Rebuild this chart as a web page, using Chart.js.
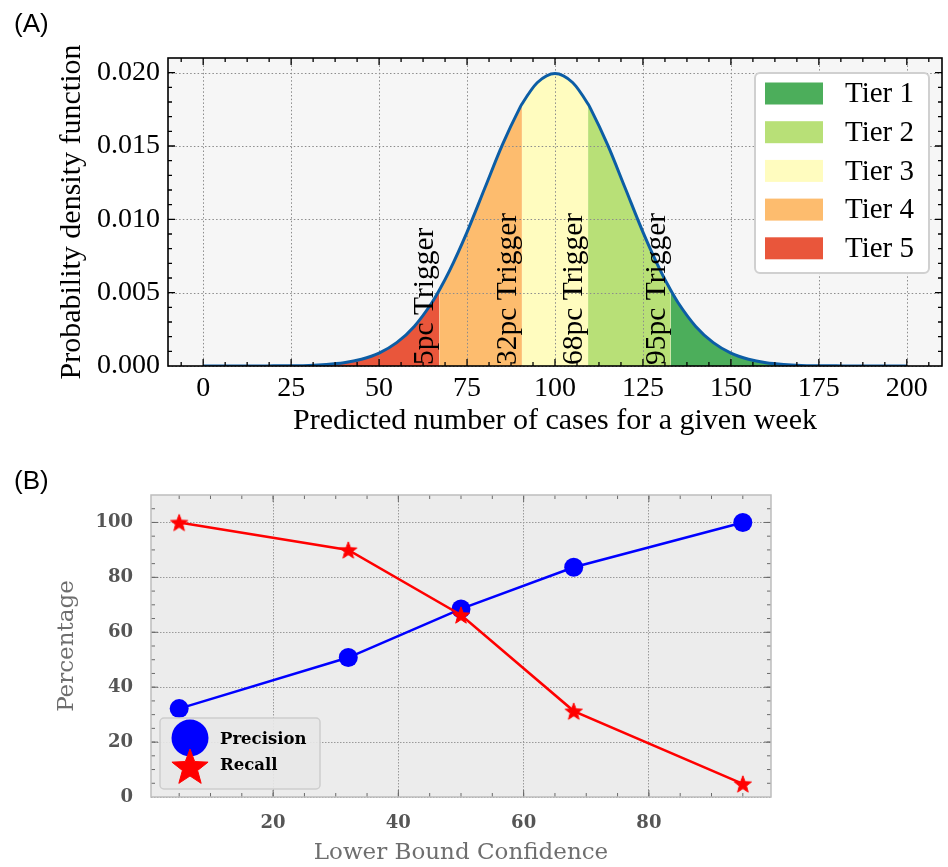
<!DOCTYPE html>
<html><head><meta charset="utf-8">
<script src="https://cdn.jsdelivr.net/npm/chart.js@4.4.0/dist/chart.umd.min.js"></script>
<style>
html,body{margin:0;padding:0;background:#fff;}
body{width:948px;height:867px;position:relative;overflow:hidden;}
#cA{position:absolute;left:0;top:0;}
#cB{position:absolute;left:0;top:450px;}
.panel{position:absolute;font-family:"Liberation Sans",Arial,sans-serif;font-size:26px;line-height:26px;color:#000;}
</style></head><body>
<canvas id="cA" width="948" height="450"></canvas>
<canvas id="cB" width="948" height="417"></canvas>
<div class="panel" style="left:14px;top:10px;">(A)</div>
<div class="panel" style="left:14px;top:467px;">(B)</div>
<script>
// ---------- Panel A data ----------
const casesX = [0,5,10,15,20,25,30,35,40,45,50,55,60,65,70,75,80,85,90,95,100,
                105,110,115,120,125,130,135,140,145,150,155,160,165,170,175,180,185,190,195,200];
const pdfY = [0,0,0,0,0.00001,0.00002,0.00004,0.0001,0.00022,0.00046,0.00088,0.00159,0.0027,0.00431,0.00648,0.00913,0.0121,0.01506,0.0176,0.01933,0.01995,
              0.01933,0.0176,0.01506,0.0121,0.00913,0.00648,0.00431,0.0027,0.00159,0.00088,0.00046,0.00022,0.0001,0.00004,0.00002,0.00001,0,0,0,0];
const triggerX = [67.1, 90.6, 109.4, 132.9];
const triggerPdf = [0.00516, 0.01786, 0.01786, 0.00516];
const triggerLabels = ['5pc Trigger', '32pc Trigger', '68pc Trigger', '95pc Trigger'];
const tierNames = ['Tier 1', 'Tier 2', 'Tier 3', 'Tier 4', 'Tier 5'];
const tierColors = ['#4cae5b', '#b8e077', '#fffcbf', '#fdbc6e', '#e9563b'];
const xTicksA = [0, 25, 50, 75, 100, 125, 150, 175, 200];
const yTicksA = [0, 0.005, 0.010, 0.015, 0.020];
const xTitleA = 'Predicted number of cases for a given week';
const yTitleA = 'Probability density function';

// ---------- Panel B data ----------
const confidence = [5, 32, 50, 68, 95];
const precision = [32.2, 50.8, 68.5, 83.7, 100];
const recall = [100, 90, 66.3, 31.3, 4.8];
const xTicksB = [20, 40, 60, 80];
const yTicksB = [0, 20, 40, 60, 80, 100];
const seriesNamesB = ['Precision', 'Recall'];
const xTitleB = 'Lower Bound Confidence';
const yTitleB = 'Percentage';

const SERIF = "'Liberation Serif','Times New Roman',serif";
const DJ = "'DejaVu Serif',serif";

// ---------- build panel A datasets ----------
const curvePts = [];
casesX.forEach((x, i) => curvePts.push({x, y: pdfY[i]}));
triggerX.forEach((x, i) => curvePts.push({x, y: triggerPdf[i]}));
curvePts.sort((a, b) => a.x - b.x);

const bounds = [-Infinity, ...triggerX, Infinity];
// tiers from left (Tier 5) to right (Tier 1)
const tierSets = [];
for (let k = 0; k < 5; k++) {
  const lo = bounds[k], hi = bounds[k + 1];
  const pts = curvePts.filter(p => p.x >= lo && p.x <= hi);
  tierSets.push({
    label: tierNames[4 - k],
    data: pts,
    borderColor: 'transparent',
    borderWidth: 0,
    backgroundColor: tierColors[4 - k],
    fill: 'origin',
    pointRadius: 0,
    cubicInterpolationMode: 'monotone',
    order: 1
  });
}

function minorVals(min, max, step) {
  const out = [];
  const start = Math.ceil(min / step) * step;
  for (let v = start; v <= max + 1e-9; v += step) out.push(v);
  return out;
}

function drawInward(chart, o) {
  const {ctx, chartArea: a, scales: {x, y}} = chart;
  ctx.save();
  ctx.strokeStyle = o.color; ctx.lineWidth = o.width;
  ctx.beginPath();
  const xs = (vals, len) => vals.forEach(v => {
    const p = x.getPixelForValue(v);
    if (p < a.left + 1 || p > a.right - 1) return;
    ctx.moveTo(p, a.bottom); ctx.lineTo(p, a.bottom - len);
    ctx.moveTo(p, a.top); ctx.lineTo(p, a.top + len);
  });
  const ys = (vals, len) => vals.forEach(v => {
    const p = y.getPixelForValue(v);
    if (p < a.top + 1 || p > a.bottom - 1) return;
    ctx.moveTo(a.left, p); ctx.lineTo(a.left + len, p);
    ctx.moveTo(a.right, p); ctx.lineTo(a.right - len, p);
  });
  xs(o.xMinor, o.minorLen); ys(o.yMinor, o.minorLen);
  xs(o.xMajor, o.majorLen); ys(o.yMajor, o.majorLen);
  ctx.stroke();
  ctx.restore();
}

const plugA = {
  id: 'plugA',
  beforeDatasetsDraw(chart) {
    const {ctx, chartArea: a} = chart;
    ctx.save(); ctx.fillStyle = '#f6f6f6';
    ctx.fillRect(a.left, a.top, a.right - a.left, a.bottom - a.top);
    ctx.restore();
  },
  beforeDatasetDraw(chart, args) {
    if (args.index !== 0) return;
    const {ctx, chartArea: a, scales: {x, y}} = chart;
    ctx.save();
    ctx.strokeStyle = '#8c8c8c'; ctx.lineWidth = 1; ctx.setLineDash([1.5, 2.2]);
    ctx.beginPath();
    x.ticks.forEach(t => { const p = Math.round(x.getPixelForValue(t.value)) + 0.5; ctx.moveTo(p, a.top); ctx.lineTo(p, a.bottom); });
    y.ticks.forEach(t => { const p = Math.round(y.getPixelForValue(t.value)) + 0.5; ctx.moveTo(a.left, p); ctx.lineTo(a.right, p); });
    ctx.stroke();
    ctx.restore();
  },
  afterDatasetsDraw(chart) {
    const {ctx, scales: {x, y}} = chart;
    ctx.save();
    ctx.fillStyle = '#000';
    ctx.font = '29.5px ' + SERIF;
    ctx.textAlign = 'left';
    ctx.textBaseline = 'bottom';
    triggerX.forEach((v, i) => {
      const px = x.getPixelForValue(v) + 1;
      const py = y.getPixelForValue(0) - 1;
      ctx.save();
      ctx.translate(px, py);
      ctx.rotate(-Math.PI / 2);
      ctx.fillText(triggerLabels[i], 0, 0);
      ctx.restore();
    });
    ctx.restore();
  },
  afterDraw(chart) {
    const {ctx, chartArea: a, scales: {x, y}} = chart;
    drawInward(chart, {
      color: '#000', width: 1.3, majorLen: 7, minorLen: 4,
      xMajor: xTicksA, yMajor: yTicksA,
      xMinor: minorVals(x.min, x.max, 6.25), yMinor: minorVals(y.min, y.max, 0.001)
    });
    ctx.save();
    ctx.strokeStyle = '#000'; ctx.lineWidth = 1.6;
    ctx.strokeRect(a.left, a.top, a.right - a.left, a.bottom - a.top);
    // legend
    const L = a.right - 187, T = a.top + 15, W = 174, H = 200;
    ctx.fillStyle = '#ffffff';
    ctx.strokeStyle = '#d0d0d0'; ctx.lineWidth = 2;
    ctx.beginPath(); ctx.roundRect(L, T, W, H, 5); ctx.fill(); ctx.stroke();
    ctx.font = '29px ' + SERIF;
    ctx.textBaseline = 'middle'; ctx.textAlign = 'left';
    tierNames.forEach((n, i) => {
      const cy = T + 20.5 + i * 38.7;
      ctx.fillStyle = tierColors[i];
      ctx.fillRect(L + 10, cy - 11, 58, 22);
      ctx.fillStyle = '#000';
      ctx.fillText(n, L + 90, cy + 1);
    });
    ctx.restore();
  }
};

new Chart(document.getElementById('cA'), {
  type: 'line',
  data: {
    datasets: [
      {label: 'pdf', data: curvePts, borderColor: '#0c5da5', borderWidth: 3, pointRadius: 0,
       fill: false, cubicInterpolationMode: 'monotone', order: 0},
      ...tierSets
    ]
  },
  options: {
    responsive: false, animation: false, events: [], devicePixelRatio: 1,
    layout: {padding: {top: 58, right: 6, left: 0, bottom: 0}},
    plugins: {legend: {display: false}, tooltip: {enabled: false}},
    scales: {
      x: {
        type: 'linear', min: -10, max: 210,
        afterBuildTicks: s => { s.ticks = xTicksA.map(v => ({value: v})); },
        afterFit: s => { s.height = 84; },
        grid: {display: false, drawTicks: false},
        border: {display: false},
        ticks: {color: '#000', font: {family: SERIF, size: 28}, padding: 6, maxRotation: 0, autoSkip: false,
                callback: v => String(v)},
        title: {display: true, text: xTitleA, color: '#000', font: {family: SERIF, size: 30, lineHeight: 1},
                padding: {top: 0, bottom: 14}}
      },
      y: {
        type: 'linear', min: 0, max: 0.021,
        afterBuildTicks: s => { s.ticks = yTicksA.map(v => ({value: v})); },
        afterFit: s => { s.width = 168; },
        grid: {display: false, drawTicks: false},
        border: {display: false},
        ticks: {color: '#000', font: {family: SERIF, size: 28}, padding: 8, autoSkip: false,
                callback: v => v.toFixed(3)},
        title: {display: true, text: yTitleA, color: '#000', font: {family: SERIF, size: 30, lineHeight: 1},
                padding: {top: 57, bottom: 0}}
      }
    }
  },
  plugins: [plugA]
});

// ---------- Panel B ----------
function starPath(ctx, cx, cy, R) {
  const r = R * 0.42;
  ctx.beginPath();
  for (let i = 0; i < 10; i++) {
    const ang = -Math.PI / 2 + i * Math.PI / 5;
    const rad = (i % 2) ? r : R;
    const px = cx + rad * Math.cos(ang), py = cy + rad * Math.sin(ang);
    if (i) ctx.lineTo(px, py); else ctx.moveTo(px, py);
  }
  ctx.closePath();
}
function makeStar(R, color) {
  const c = document.createElement('canvas');
  const s = Math.ceil(2 * R + 4);
  c.width = s; c.height = s;
  const g = c.getContext('2d');
  g.fillStyle = color; g.strokeStyle = color; g.lineWidth = 1;
  starPath(g, s / 2, s / 2 + R * 0.1, R);
  g.fill(); g.stroke();
  return c;
}
const starImg = makeStar(9, '#ff0000');

const plugB = {
  id: 'plugB',
  beforeDraw(chart) {
    const {ctx, chartArea: a} = chart;
    ctx.save(); ctx.fillStyle = '#ececec';
    ctx.fillRect(a.left, a.top, a.right - a.left, a.bottom - a.top);
    ctx.restore();
  },
  afterDraw(chart) {
    const {ctx, chartArea: a, scales: {x, y}} = chart;
    drawInward(chart, {
      color: '#6a6a6a', width: 1, majorLen: 7, minorLen: 4,
      xMajor: xTicksB, yMajor: yTicksB,
      xMinor: minorVals(x.min, x.max, 5), yMinor: minorVals(y.min, y.max, 5)
    });
    ctx.save();
    ctx.strokeStyle = '#bdbdbd'; ctx.lineWidth = 1.5;
    ctx.strokeRect(a.left, a.top, a.right - a.left, a.bottom - a.top);
    // legend
    const L = a.left + 9, B = a.bottom - 8, W = 160, H = 71;
    ctx.fillStyle = 'rgba(232,232,232,0.9)';
    ctx.strokeStyle = '#cdcdcd'; ctx.lineWidth = 1.5;
    ctx.beginPath(); ctx.roundRect(L, B - H, W, H, 4); ctx.fill(); ctx.stroke();
    const mx = L + 30;
    ctx.fillStyle = '#0000ff';
    ctx.beginPath(); ctx.arc(mx, B - H + 20, 18.5, 0, Math.PI * 2); ctx.fill();
    ctx.fillStyle = '#ff0000'; ctx.strokeStyle = '#ff0000'; ctx.lineWidth = 1;
    starPath(ctx, mx, B - H + 50, 19); ctx.fill(); ctx.stroke();
    ctx.fillStyle = '#000';
    ctx.font = 'bold 16.5px ' + DJ;
    ctx.textBaseline = 'middle'; ctx.textAlign = 'left';
    ctx.fillText(seriesNamesB[0], L + 60, B - H + 22);
    ctx.fillText(seriesNamesB[1], L + 60, B - H + 48);
    ctx.restore();
  }
};

new Chart(document.getElementById('cB'), {
  type: 'line',
  data: {
    datasets: [
      {label: seriesNamesB[1], data: confidence.map((c, i) => ({x: c, y: recall[i]})),
       borderColor: '#ff0000', borderWidth: 2.5, pointStyle: starImg, pointRadius: 9,
       backgroundColor: '#ff0000', fill: false, tension: 0, order: 0},
      {label: seriesNamesB[0], data: confidence.map((c, i) => ({x: c, y: precision[i]})),
       borderColor: '#0000ff', borderWidth: 2.5, pointStyle: 'circle', pointRadius: 9.5,
       pointBackgroundColor: '#0000ff', pointBorderColor: '#0000ff', pointBorderWidth: 0,
       backgroundColor: '#0000ff', fill: false, tension: 0, order: 1}
    ]
  },
  options: {
    responsive: false, animation: false, events: [], devicePixelRatio: 1,
    layout: {padding: {top: 45, right: 177, left: 0, bottom: 0}},
    plugins: {legend: {display: false}, tooltip: {enabled: false}},
    scales: {
      x: {
        type: 'linear', min: 0.5, max: 99.5,
        afterBuildTicks: s => { s.ticks = xTicksB.map(v => ({value: v})); },
        afterFit: s => { s.height = 70; },
        grid: {color: '#9a9a9a', lineWidth: 1, drawTicks: false},
        border: {display: false, dash: [1.5, 1.5]},
        ticks: {color: '#555555', font: {family: DJ, size: 18, weight: 'bold'}, padding: 16, maxRotation: 0,
                autoSkip: false, callback: v => String(v)},
        title: {display: true, text: xTitleB, color: '#6e6e6e', font: {family: DJ, size: 23, lineHeight: 1},
                padding: {top: 0, bottom: 2}}
      },
      y: {
        type: 'linear', min: 0, max: 110,
        afterBuildTicks: s => { s.ticks = yTicksB.map(v => ({value: v})); },
        afterFit: s => { s.width = 151; },
        grid: {color: '#9a9a9a', lineWidth: 1, drawTicks: false},
        border: {display: false, dash: [1.5, 1.5]},
        ticks: {color: '#555555', font: {family: DJ, size: 18, weight: 'bold'}, padding: 18, autoSkip: false,
                callback: v => String(v)},
        title: {display: true, text: yTitleB, color: '#6e6e6e', font: {family: DJ, size: 23, lineHeight: 1},
                padding: {top: 56, bottom: 0}}
      }
    }
  },
  plugins: [plugB]
});
</script>
</body></html>
